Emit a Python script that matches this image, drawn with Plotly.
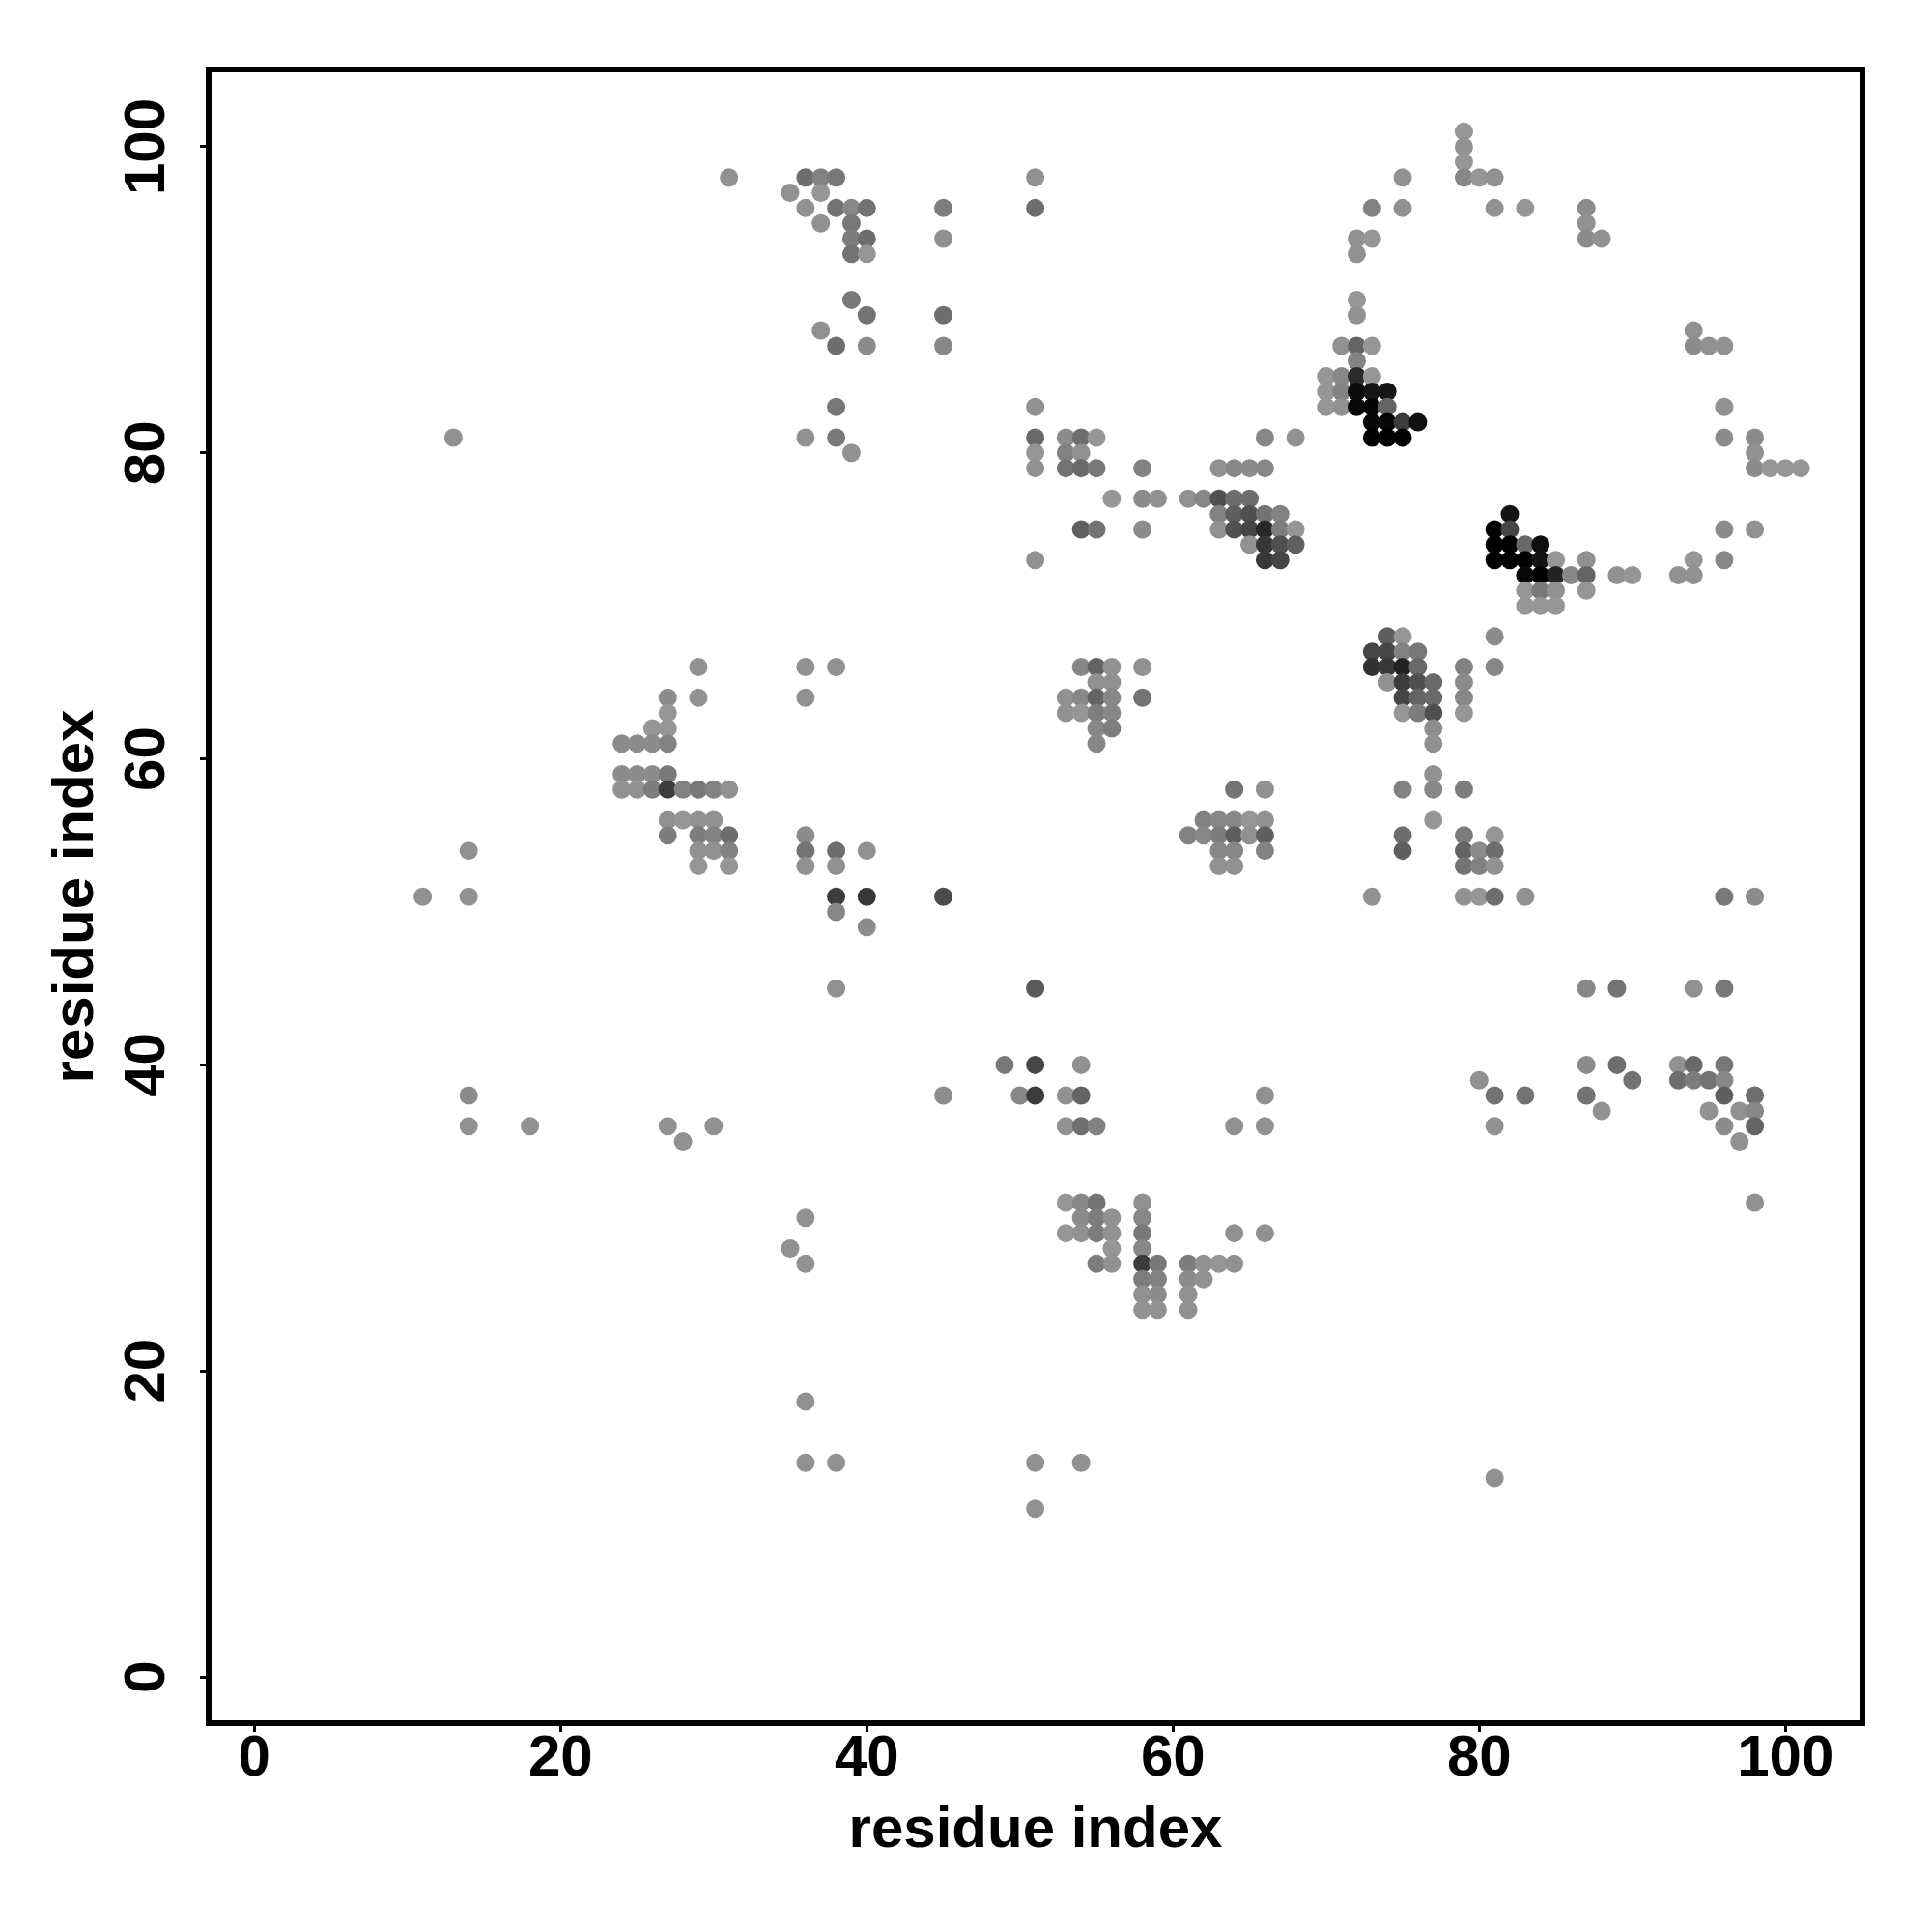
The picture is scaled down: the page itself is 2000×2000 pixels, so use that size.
import plotly.graph_objects as go

rows = [101,100,99,98,97,96,95,94,93,90,89,88,87,86,85,84,83,82,81,80,79,77,76,75,74,73,72,71,70,
        68,67,66,65,64,63,62,61,59,58,56,55,54,53,51,50,49,45,40,39,38,37,36,35,31,30,29,28,27,26,25,24,18,14,13,11]

xs_by_row = [
 [79],[79],[79],
 [31,36,37,38,51,75,79,80,81],
 [35,37],
 [36,38,39,40,45,51,73,75,81,83,87],
 [37,39,87],
 [39,40,45,72,73,87,88],
 [39,40,72],
 [39,72],
 [40,45,72],
 [37,94],
 [38,40,45,71,72,73,94,95,96],
 [72],
 [70,71,72,73],
 [70,71,72,73,74],
 [38,51,70,71,72,73,74,96],
 [73,74,75,76],
 [13,36,38,51,53,54,55,66,68,73,74,75,96,98],
 [39,51,53,54,98],
 [51,53,54,55,58,63,64,65,66,98,99,100,101],
 [56,58,59,61,62,63,64,65],
 [63,64,65,66,67,82],
 [54,55,58,63,64,65,66,67,68,81,82,96,98],
 [65,66,67,68,81,82,83,84],
 [51,66,67,81,82,83,84,85,87,94,96],
 [83,84,85,86,87,89,90,93,94],
 [83,84,85,87],
 [83,84,85],
 [74,75,81],
 [73,74,75,76],
 [29,36,38,54,55,56,58,73,74,75,76,79,81],
 [55,56,74,75,76,77,79],
 [27,29,36,53,54,55,56,58,75,76,77,79],
 [27,53,54,55,56,75,76,77,79],
 [26,27,55,56,77],
 [24,25,26,27,55,77],
 [24,25,26,27,77],
 [24,25,26,27,28,29,30,31,64,66,75,77,79],
 [27,28,29,30,62,63,64,65,66,77],
 [27,29,30,31,36,61,62,63,64,65,66,75,79,81],
 [14,29,30,31,36,38,40,63,64,66,75,79,80,81],
 [29,31,36,38,63,64,79,80,81],
 [11,14,38,40,45,73,79,80,81,83,96,98],
 [38],
 [40],
 [38,51,87,89,94,96],
 [49,51,54,87,89,93,94,96],
 [80,90,93,94,95,96],
 [14,45,50,51,53,54,66,81,83,87,96,98],
 [88,95,97,98],
 [14,18,27,30,53,54,55,64,66,81,96,98],
 [28,97],
 [53,54,55,58,98],
 [36,54,55,56,58],
 [53,54,55,56,58,64,66],
 [35,56,58],
 [36,55,56,58,59,61,62,63,64],
 [58,59,61,62],
 [58,59,61],
 [58,59,61],
 [36],
 [36,38,51,54],
 [81],
 [51],
]

grays_by_row = [
 [150],[145],[150],
 [145,110,130,120,145,145,135,150,145],
 [145,150],
 [145,115,135,115,125,110,130,145,145,150,140],
 [145,120,145],
 [125,110,145,145,150,140,145],
 [115,150,145],
 [120,150],
 [115,110,145],
 [145,145],
 [110,140,135,145,100,150,140,145,145],
 [130],
 [150,135,42,150],
 [150,130,10,22,22],
 [120,145,150,145,8,5,100,145],
 [6,6,60,15],
 [145,145,120,105,140,110,150,135,145,0,0,0,140,140],
 [145,150,130,145,145],
 [145,115,105,120,130,145,135,140,135,140,150,150,150],
 [150,140,145,145,135,80,110,110],
 [130,95,80,115,130,20],
 [95,115,140,145,80,70,40,125,150,0,70,140,145],
 [145,55,80,95,0,0,105,15],
 [145,55,70,0,0,0,20,150,145,150,135],
 [8,0,35,135,100,145,150,145,145],
 [150,120,145,150],
 [150,150,150],
 [95,150,140],
 [70,70,130,120],
 [145,145,145,135,100,145,145,50,55,35,105,130,135],
 [145,145,145,60,80,105,140],
 [140,145,145,145,135,100,135,115,70,100,105,135],
 [150,145,150,125,135,150,125,80,150],
 [150,150,135,125,140],
 [140,140,140,130,135,145],
 [140,140,140,120,145],
 [145,145,125,60,130,120,130,145,115,145,130,135,125],
 [145,150,145,145,130,135,135,150,145,150],
 [125,125,130,110,140,130,135,125,95,145,95,110,125,150],
 [145,145,145,130,115,110,145,135,135,130,95,100,140,110],
 [150,150,145,145,145,145,115,130,145],
 [145,145,60,55,75,145,145,150,110,145,120,140],
 [135],
 [140],
 [145,90,135,115,145,120],
 [120,70,145,140,110,145,105,120],
 [145,115,110,125,115,135],
 [140,140,135,60,145,100,145,115,115,115,95,110],
 [145,145,145,135],
 [145,145,145,145,145,110,130,145,145,145,140,100],
 [145,145],
 [150,135,115,145,145],
 [145,140,125,145,135],
 [150,145,125,145,120,145,145],
 [145,150,135],
 [145,125,145,60,120,125,145,150,145],
 [125,130,140,145],
 [145,140,145],
 [145,145,145],
 [145],
 [145,145,145,145],
 [145],
 [145],
]

tick_vals = [0, 20, 40, 60, 80, 100]
axis_label = "residue index"

assert len(rows) == len(xs_by_row) == len(grays_by_row)
x, y, color = [], [], []
for r, xs, gs in zip(rows, xs_by_row, grays_by_row):
    assert len(xs) == len(gs), r
    for a, g in zip(xs, gs):
        x.append(a); y.append(r); color.append(f"rgb({g},{g},{g})")

FONT = "Liberation Sans"
fig = go.Figure(go.Scatter(x=x, y=y, mode="markers",
                           marker=dict(size=19, color=color, line=dict(width=0)),
                           hoverinfo="skip"))

common = dict(
    tickmode="array", tickvals=tick_vals, ticktext=[str(v) for v in tick_vals],
    showgrid=False, zeroline=False, showline=True, mirror=True,
    linecolor="black", linewidth=6, ticks="outside", ticklen=6, tickwidth=3,
    tickcolor="black",
    tickfont=dict(family=FONT, size=60, color="black", weight="bold"),
)
fig.update_xaxes(range=[-2.795, 104.84], ticklabelstandoff=-27,
                 title=dict(text=axis_label, standoff=22,
                            font=dict(family=FONT, size=60, color="black", weight="bold")),
                 **common)
fig.update_yaxes(range=[-2.84, 104.86], tickangle=-90, ticklabelstandoff=13,
                 ticklabelshift=9,
                 title=dict(text=axis_label, standoff=2,
                            font=dict(family=FONT, size=60, color="black", weight="bold")),
                 **common)
fig.update_layout(width=2000, height=2000, autosize=False,
                  margin=dict(l=219, r=75, t=75, b=219, autoexpand=False),
                  plot_bgcolor="white", paper_bgcolor="white", showlegend=False)
fig.write_html("out.html", post_script="document.body.style.margin='0';",
               config=dict(displayModeBar=False))
